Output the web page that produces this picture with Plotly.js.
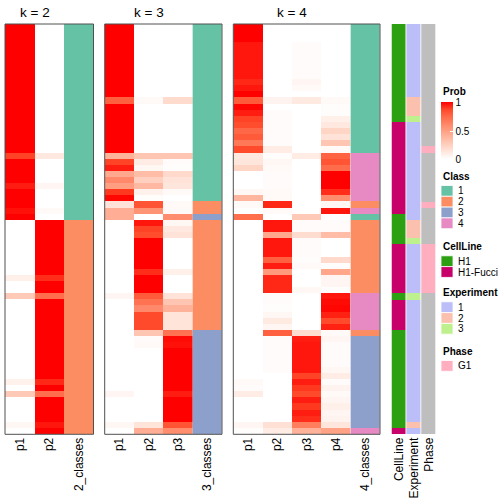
<!DOCTYPE html>
<html><head><meta charset="utf-8">
<script src="https://cdn.plot.ly/plotly-3.0.1.min.js"></script>
<style>html,body{margin:0;padding:0;background:#fff}</style>
</head><body><div id="chart" style="width:504px;height:504px"></div>
<script>
// ---------------- data (67 samples, top to bottom) ----------------
const k2_p1 = [1,1,1,1,1,1,1,1,1,1, 1,1,1,1,1,1,1,1,1,1, 1,0.88,1,1,1,1,0.95,1,1,1, 0.97,1,0,0,0,0,0,0,0,0, 0,0.08,0,0,0.28,0,0,0,0,0, 0,0,0,0,0,0,0,0,0.07,0, 0.28,0,0,0,0,0.04,0];
const k2_p2 = [0,0,0,0,0,0,0,0,0,0, 0,0,0,0,0,0,0,0,0,0, 0,0.12,0,0,0,0,0.05,0,0,0, 0.03,0,1,1,1,1,1,1,1,1, 1,0.92,1,1,0.72,1,1,1,1,1, 1,1,1,1,1,1,1,1,0.93,1, 0.72,1,1,1,1,0.96,1];
const k2_class = [1,1,1,1,1,1,1,1,1,1, 1,1,1,1,1,1,1,1,1,1, 1,1,1,1,1,1,1,1,1,1, 1,1,2,2,2,2,2,2,2,2, 2,2,2,2,2,2,2,2,2,2, 2,2,2,2,2,2,2,2,2,2, 2,2,2,2,2,2,2];

const k3_p1 = [1,1,1,1,1,1,1,1,1,1, 1,1,0.78,1,1,1,1,1,1,1, 1,0.4,0.88,0.95,0.45,0.6,0.5,0.9,0.99,0.15, 0.42,0.42,0,0,0,0,0,0,0,0, 0,0,0,0,0.05,0,0,0,0,0, 0,0,0,0,0,0,0,0,0,0, 0.05,0,0,0,0,0.04,0];
const k3_p2 = [0,0,0,0,0,0,0,0,0,0, 0,0,0.03,0,0,0,0,0,0,0, 0,0.3,0.1,0.04,0.35,0.25,0.37,0.07,0.01,0.82, 0.55,0,0.96,0.88,0.85,1,1,1,1,1, 0.92,1,1,1,0.8,0.7,0.6,0.86,0.86,0.86, 0.3,0.02,0.03,0,0,0,0,0,0,0, 0,0,0,0,0,0.14,0.42];
const k3_p3 = [0,0,0,0,0,0,0,0,0,0, 0,0,0.19,0,0,0,0,0,0,0, 0,0.3,0.02,0.01,0.2,0.15,0.13,0.03,0,0.03, 0.03,0.58,0.04,0.12,0.15,0,0,0,0,0, 0.08,0,0,0,0.15,0.3,0.4,0.14,0.14,0.14, 0.7,0.98,0.97,1,1,1,1,1,1,1, 0.95,1,1,1,1,0.82,0.58];
const k3_class = [1,1,1,1,1,1,1,1,1,1, 1,1,1,1,1,1,1,1,1,1, 1,1,1,1,1,1,1,1,1,2, 2,3,2,2,2,2,2,2,2,2, 2,2,2,2,2,2,2,2,2,2, 3,3,3,3,3,3,3,3,3,3, 3,3,3,3,3,3,3];

const k4_p1 = [1,1,1,0.96,0.96,0.96,0.96,0.96,0.96,0.93, 0.96,1,0.8,0.99,0.95,0.88,0.85,0.75,0.8,0.68, 0.86,0.12,0.13,0.22,0,0,0,0.04,0.38,0.03, 0,0.72,0,0,0,0,0,0,0,0, 0,0,0,0,0,0,0,0,0,0, 0,0,0,0,0,0,0,0,0.03,0.02, 0.1,0,0,0,0,0.05,0.01];
const k4_p2 = [0,0,0,0,0,0,0,0,0,0, 0,0,0.06,0,0.02,0.02,0.02,0.02,0.02,0.02, 0.1,0.01,0.04,0.03,0.02,0.02,0.02,0.03,0.03,0.93, 0.03,0,0.96,0.96,0.45,0.96,0.96,0.96,0.78,0.95, 0.52,0.93,0.93,0.93,0.02,0.02,0.01,0.04,0.11,0.05, 0.78,0.02,0.02,0.02,0.02,0.02,0.02,0,0,0, 0,0,0,0,0,0.16,0.1];
const k4_p3 = [0,0,0,0.02,0.02,0.02,0.02,0.02,0.02,0.05, 0.03,0,0.11,0,0,0,0,0,0,0, 0,0.1,0,0,0,0,0,0,0,0, 0,0.28,0.02,0.02,0.18,0.02,0.02,0.02,0.01,0.03, 0,0,0,0.04,0,0,0,0,0,0, 0.18,0.95,0.96,0.96,0.96,0.96,0.96,0.88,0.95,0.9, 0.86,0.95,0.9,0.95,0.92,0.65,0.4];
const k4_p4 = [0,0,0,0,0,0,0,0,0,0, 0,0,0.03,0.01,0.01,0.08,0.12,0.22,0.15,0.3, 0.03,0.77,0.82,0.73,1,1,1,0.92,0.58,0.04, 0.96,0,0.02,0.02,0.35,0,0,0,0.2,0.01, 0.46,0.05,0.05,0.01,0.96,0.98,0.99,0.94,0.86,0.94, 0.03,0.05,0.02,0.02,0.02,0.02,0.04,0.1,0.02,0.06, 0.03,0.05,0.08,0.05,0.06,0.13,0.48];
const k4_class = [1,1,1,1,1,1,1,1,1,1, 1,1,1,1,1,1,1,1,1,1, 1,4,4,4,4,4,4,4,4,2, 4,1,2,2,2,2,2,2,2,2, 2,2,2,2,4,4,4,4,4,4, 2,3,3,3,3,3,3,3,3,3, 3,3,3,3,3,3,4];

const cellLine = ['H1','H1','H1','H1','H1','H1','H1','H1','H1','H1', 'H1','H1','H1','H1','H1','H1','H1-Fucci','H1-Fucci','H1-Fucci','H1-Fucci',
  'H1-Fucci','H1-Fucci','H1-Fucci','H1-Fucci','H1-Fucci','H1-Fucci','H1-Fucci','H1-Fucci','H1-Fucci','H1-Fucci',
  'H1-Fucci','H1','H1','H1','H1','H1','H1-Fucci','H1-Fucci','H1-Fucci','H1-Fucci',
  'H1-Fucci','H1-Fucci','H1-Fucci','H1-Fucci','H1','H1-Fucci','H1-Fucci','H1-Fucci','H1-Fucci','H1-Fucci',
  'H1','H1','H1','H1','H1','H1','H1','H1','H1','H1', 'H1','H1','H1','H1','H1','H1','H1-Fucci'];
const experiment = ['1','1','1','1','1','1','1','1','1','1', '1','1','2','2','2','3','1','1','1','1',
  '1','1','1','1','1','1','1','1','1','1', '1','1','2','2','2','3','1','1','1','1',
  '1','1','1','1','3','1','1','1','1','1', '1','1','1','1','1','1','1','1','1','1', '1','1','1','1','1','2','1'];
const phase = [null,null,null,null,null,null,null,null,null,null, null,null,null,null,null,null,null,null,null,null,
  'G1',null,null,null,null,null,null,null,null,'G1', null,null,null,null,null,null,'G1','G1','G1','G1',
  'G1','G1','G1','G1',null,null,null,null,null,null, null,null,null,null,null,null,null,null,null,null, null,null,null,null,null,null,null];

const k2_cols = ['p1','p2','2_classes'];
const k3_cols = ['p1','p2','p3','3_classes'];
const k4_cols = ['p1','p2','p3','p4','4_classes'];
const annoCols = ['CellLine','Experiment','Phase'];

const classLevels = ['1','2','3','4'];
const classColors = ['#66C2A5','#FC8D62','#8DA0CB','#E78AC3'];
const cellLineLevels = ['H1','H1-Fucci'];
const cellLineColors = ['#2CA012','#C8006A'];
const experimentLevels = ['1','2','3'];
const experimentColors = ['#BBBEF8','#FCC0AE','#BEF08E'];
const phaseLevels = ['G1'];
const phaseColors = ['#FFAEC0'];
const naColor = '#BEBEBE';

// ---------------- helpers ----------------
const W = 504, H = 504;
const px = v => v / W, py = v => 1 - v / H;
const rows = k2_p1.map((_, i) => i);
const redScale = [[0,'#FFFFFF'],[0.125,'rgb(255,231,222)'],[0.25,'rgb(255,207,191)'],[0.375,'rgb(255,183,160)'],
  [0.5,'rgb(255,158,129)'],[0.625,'rgb(255,132,100)'],[0.75,'rgb(255,104,70)'],[0.875,'rgb(255,70,40)'],[1,'rgb(255,0,0)']];
const FONT = 'Liberation Sans, Arial, Helvetica, sans-serif';

function discreteScale(colors) {
  const n = colors.length, s = [];
  colors.forEach((c, k) => { s.push([k / n, c]); s.push([(k + 1) / n, c]); });
  return s;
}
function probTrace(cols, xa, showscale) {
  const t = {type:'heatmap', x0:0, dx:1, y:rows, z:rows.map(i => cols.map(c => c[i])), xaxis:xa, yaxis:'y',
    colorscale:redScale, zmin:0, zmax:1, showscale:showscale, hoverinfo:'skip'};
  if (showscale) t.colorbar = {x:px(441), xanchor:'left', xpad:0, ypad:0, thickness:12, thicknessmode:'pixels',
    len:57, lenmode:'pixels', y:py(131), yanchor:'middle', tickvals:[0,0.5,1], ticktext:['0','0.5','1'],
    ticks:'inside', ticklen:3, tickcolor:'#ffffff', outlinewidth:0, tickfont:{size:10, family:FONT, color:'#000'}};
  return t;
}
function catTrace(values, levels, colors, col, xa, gap) {
  const lv = levels.slice(), cl = colors.slice();
  if (values.some(v => v === null)) { lv.push(null); cl.push(naColor); }
  return {type:'heatmap', x0:col, dx:1, y:rows, z:values.map(v => [lv.indexOf(v)]), xaxis:xa, yaxis:'y',
    colorscale:discreteScale(cl), zmin:-0.5, zmax:cl.length - 0.5, showscale:false, xgap:gap, hoverinfo:'skip'};
}

const traces = [
  probTrace([k2_p1,k2_p2], 'x', true),
  catTrace(k2_class.map(String), classLevels, classColors, k2_cols.indexOf('2_classes'), 'x', 0),
  probTrace([k3_p1,k3_p2,k3_p3], 'x2', false),
  catTrace(k3_class.map(String), classLevels, classColors, k3_cols.indexOf('3_classes'), 'x2', 0),
  probTrace([k4_p1,k4_p2,k4_p3,k4_p4], 'x3', false),
  catTrace(k4_class.map(String), classLevels, classColors, k4_cols.indexOf('4_classes'), 'x3', 0),
  catTrace(cellLine, cellLineLevels, cellLineColors, annoCols.indexOf('CellLine'), 'x4', 1),
  catTrace(experiment, experimentLevels, experimentColors, annoCols.indexOf('Experiment'), 'x4', 1),
  catTrace(phase, phaseLevels, phaseColors, annoCols.indexOf('Phase'), 'x4', 1)
];

const xbase = {type:'linear', anchor:'y', tickangle:-90, showgrid:false, zeroline:false, ticks:'',
  showline:false, tickfont:{size:12, family:FONT, color:'#000'}, tickmode:'array'};
function xax(domain, cols) {
  return Object.assign({}, xbase, {domain:[px(domain[0]), px(domain[1])], range:[-0.5, cols.length - 0.5],
    tickvals:cols.map((_, i) => i), ticktext:cols});
}
const layout = {
  width:W, height:H, margin:{l:0,r:0,t:0,b:0}, paper_bgcolor:'#fff', plot_bgcolor:'#fff',
  font:{family:FONT, color:'#000'}, showlegend:false,
  xaxis: xax([5, 93.5], k2_cols),
  xaxis2: xax([104.7, 222], k3_cols),
  xaxis3: xax([233.3, 380], k4_cols),
  xaxis4: xax([391.5, 436.2], annoCols),
  yaxis: {domain:[py(434.3), py(24)], range:[66.5,-0.5], visible:false, showgrid:false, zeroline:false},
  shapes: [], annotations: []
};
['x','x2','x3'].forEach(a => layout.shapes.push({type:'rect', xref:a + ' domain', yref:'y domain', x0:0, x1:1, y0:0, y1:1,
  line:{color:'#505050', width:1}, fillcolor:'rgba(0,0,0,0)'}));
// column titles centred over the probability columns
[['x',k2_cols,'k = 2'],['x2',k3_cols,'k = 3'],['x3',k4_cols,'k = 4']].forEach(([a, cols, t]) => layout.annotations.push({
  xref:a, yref:'paper', x:(cols.length - 2) / 2, y:py(12), text:t, showarrow:false, xanchor:'center', yanchor:'middle',
  font:{size:13.5, family:FONT}}));

// legends
layout.annotations.push({xref:'paper', yref:'paper', x:px(440.5), y:py(91.5), text:'<b>Prob</b>', showarrow:false,
  xanchor:'left', yanchor:'middle', font:{size:10, family:FONT}});
const legendBlocks = [
  {title:'Class', labels:classLevels, colors:classColors, top:176},
  {title:'CellLine', labels:cellLineLevels, colors:cellLineColors, top:246.3},
  {title:'Experiment', labels:experimentLevels, colors:experimentColors, top:292.3},
  {title:'Phase', labels:phaseLevels, colors:phaseColors, top:351}
];
legendBlocks.forEach(b => {
  layout.annotations.push({xref:'paper', yref:'paper', x:px(440.5), y:py(b.top), text:'<b>' + b.title + '</b>', showarrow:false,
    xanchor:'left', yanchor:'middle', font:{size:10, family:FONT}});
  b.labels.forEach((l, k) => {
    const y0 = b.top + 9.5 + k * 10.8;
    layout.shapes.push({type:'rect', xref:'paper', yref:'paper', x0:px(441), x1:px(453), y0:py(y0), y1:py(y0 + 10.8),
      fillcolor:b.colors[k], line:{color:'#ffffff', width:0.8}});
    layout.annotations.push({xref:'paper', yref:'paper', x:px(455.5), y:py(y0 + 5.4), text:l, showarrow:false,
      xanchor:'left', yanchor:'middle', font:{size:10, family:FONT}});
  });
});

Plotly.newPlot('chart', traces, layout, {staticPlot:true, displayModeBar:false});
</script></body></html>
